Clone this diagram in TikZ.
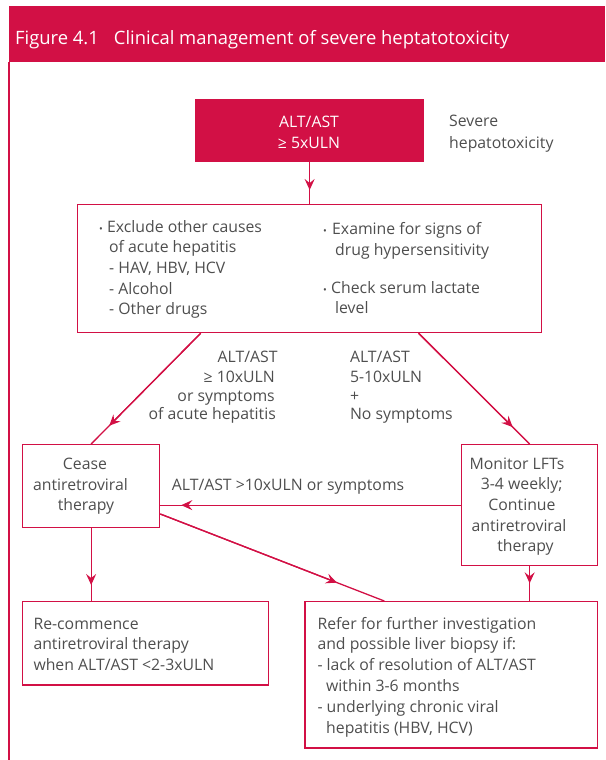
\documentclass[tikz,border=0pt]{standalone}
\usepackage{fontspec}
\setmainfont{Open Sans}
\usetikzlibrary{arrows.meta,calc}
\definecolor{hred}{RGB}{210,16,69}
\definecolor{tgray}{RGB}{78,78,78}
\begin{document}
\begin{tikzpicture}[x=1pt,y=-1pt,
  box/.style={draw=hred, line width=1.3pt, inner sep=0pt, anchor=north west},
  t/.style={font=\fontsize{15.8}{19}\selectfont, text=tgray, inner sep=0pt},
  bul/.style={font=\fontsize{10}{12}\selectfont, text=tgray, inner sep=0pt, anchor=base west},
  conn/.style={draw=hred, line width=1.3pt},
  tipd/.style={conn, -{Stealth[length=11pt,width=10pt,inset=4pt]}}]
\useasboundingbox (0,0) rectangle (605,760);
% header
\node[fill=hred, anchor=north west, minimum width=596.5pt, minimum height=56pt, inner sep=0pt] (hdr) at (8.5,6) {};
\node[font=\fontsize{18.4}{22}\selectfont, text=white, inner sep=0pt, anchor=base west] (title) at (15,44.5) {Figure 4.1\hspace{15pt}Clinical management of severe heptatotoxicity};
\draw[hred, line width=1.4pt] (hdr.south west) ++(0.5,0) coordinate (fr) -- (fr |- 0,760);
% boxes
\node[box, fill=hred, minimum width=228pt, minimum height=62pt] (top) at (195,99) {};
\node[box, minimum width=464pt, minimum height=128pt] (box2) at (77,204) {};
\node[box, minimum width=137pt, minimum height=83pt] (cease) at (22,444) {};
\node[box, minimum width=136pt, minimum height=121pt] (mon) at (461,444) {};
\node[box, minimum width=245.7pt, minimum height=83.3pt] (rec) at (22,601) {};
\node[box, minimum width=292.7pt, minimum height=146.3pt] (ref) at (304.3,601) {};
% top box text
\node[t, text=white, anchor=base] (t1) at (309,127) {ALT/AST};
\node[t, text=white, anchor=base] (t2) at (309,148.5) {≥ 5xULN};
\node[t, anchor=base west] (sev1) at (449,126.7) {Severe};
\node[t, anchor=base west] (sev2) at (449,148) {hepatotoxicity};
% box2 left column
\node[bul] (b1) at (99,232) {•};
\node[t, anchor=base west] (l1) at (107,232) {Exclude other causes};
\node[t, anchor=base west] (l2) at (109,252.5) {of acute hepatitis};
\node[t, anchor=base west] (l3) at (109,273) {- HAV, HBV, HCV};
\node[t, anchor=base west] (l4) at (109,294) {- Alcohol};
\node[t, anchor=base west] (l5) at (109,314.5) {- Other drugs};
% box2 right column
\node[bul] (b2) at (323,234) {•};
\node[t, anchor=base west] (r1) at (332,234) {Examine for signs of};
\node[t, anchor=base west] (r2) at (335,255.5) {drug hypersensitivity};
\node[bul] (b3) at (323,293) {•};
\node[t, anchor=base west] (r3) at (331,293) {Check serum lactate};
\node[t, anchor=base west] (r4) at (335,313.5) {level};
% branch labels
\node[t, anchor=base east] (la1) at (277.7,362.3) {ALT/AST};
\node[t, anchor=base east] (la2) at (275,382.3) {≥ 10xULN};
\node[t, anchor=base east] (la3) at (275,401) {or symptoms};
\node[t, anchor=base east] (la4) at (276,419.5) {of acute hepatitis};
\node[t, anchor=base west] (ra1) at (349.8,362.3) {ALT/AST};
\node[t, anchor=base west] (ra2) at (349.8,382.3) {5-10xULN};
\node[t, anchor=base west] (ra3) at (349.8,401) {+};
\node[t, anchor=base west] (ra4) at (349.8,419.5) {No symptoms};
\node[t, anchor=base west] (hl) at (171.7,490.5) {ALT/AST >10xULN or symptoms};
% cease text
\node[t, anchor=base] (c1) at (85,469.3) {Cease};
\node[t, anchor=base] (c2) at (80.5,490) {antiretroviral};
\node[t, anchor=base] (c3) at (86,510.7) {therapy};
% monitor text
\node[t, anchor=base] (m1) at (517,469.3) {Monitor LFTs};
\node[t, anchor=base] (m2) at (521.7,489.9) {3-4 weekly;};
\node[t, anchor=base] (m3) at (522,510.5) {Continue};
\node[t, anchor=base] (m4) at (519,531.1) {antiretroviral};
\node[t, anchor=base] (m5) at (525.5,551.7) {therapy};
% recommence text
\node[t, anchor=base west] (rc1) at (33.3,629) {Re-commence};
\node[t, anchor=base west] (rc2) at (33.3,649.8) {antiretroviral therapy};
\node[t, anchor=base west] (rc3) at (33.3,670.6) {when ALT/AST <2-3xULN};
% refer text
\node[t, anchor=base west] (rf1) at (317.3,629) {Refer for further investigation};
\node[t, anchor=base west] (rf2) at (317.3,649.8) {and possible liver biopsy if:};
\node[t, anchor=base west] (rf3) at (317.3,670.6) {- lack of resolution of ALT/AST};
\node[t, anchor=base west] (rf4) at (326,691.4) {within 3-6 months};
\node[t, anchor=base west] (rf5) at (317.3,712.2) {- underlying chronic viral};
\node[t, anchor=base west] (rf6) at (326,733) {hepatitis (HBV, HCV)};
% connectors
\draw[conn] (top.south) -- (box2.north);
\draw[tipd] (top.south) -- ($(box2.north)!14pt!(top.south)$);
\coordinate (dl) at ($(box2.south)+(-109,0)$);
\coordinate (dr) at ($(box2.south)+(109,0)$);
\draw[conn] (dl) -- (cease.north);
\draw[tipd] (dl) -- ($(cease.north)!25.7pt!(dl)$);
\draw[conn] (dr) -- (mon.north);
\draw[tipd] (dr) -- ($(mon.north)!24pt!(dr)$);
\coordinate (hz) at (mon.west -| cease.east);
\draw[conn] (mon.west) -- (hz);
\draw[tipd] (mon.west) -- ($(hz)!21pt!(mon.west)$);
\coordinate (cs) at ($(cease.south east)+(0,-14.3)$);
\coordinate (rt) at ($(ref.north west)+(80,0)$);
\draw[conn] (cs) -- (rt);
\draw[tipd] (cs) -- ($(rt)!50.8pt!(cs)$);
\coordinate (rcn) at (cease.south |- rec.north);
\draw[conn] (cease.south) -- (rcn);
\draw[tipd] (cease.south) -- ($(rcn)!16pt!(cease.south)$);
\coordinate (rfn) at (mon.south |- ref.north);
\draw[conn] (mon.south) -- (rfn);
\draw[tipd] (mon.south) -- ($(rfn)!17.7pt!(mon.south)$);
\end{tikzpicture}
\end{document}
